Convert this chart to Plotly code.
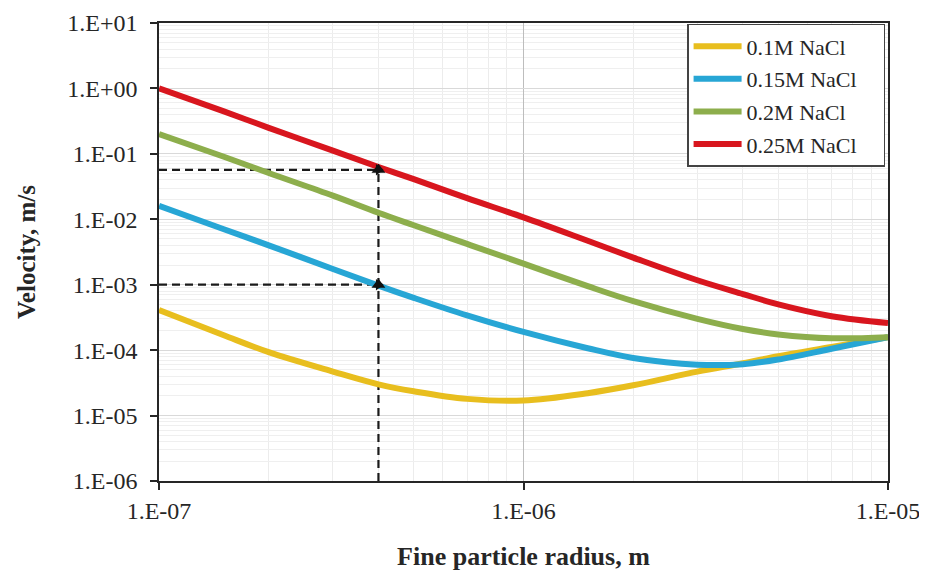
import plotly.graph_objects as go

# ---- data ----
radius = [1e-7, 1.5e-7, 2e-7, 3e-7, 4e-7, 5e-7, 7e-7, 1e-6, 1.5e-6, 2e-6, 3e-6, 4e-6, 5e-6, 7e-6, 1e-5]

v_01M = [4.1e-4, 1.7e-4, 9.3e-5, 4.7e-5, 3.0e-5, 2.35e-5, 1.8e-5, 1.7e-5, 2.2e-5, 2.9e-5, 4.7e-5, 6.3e-5, 8.1e-5, 1.12e-4, 1.58e-4]
v_015M = [0.016, 7.1e-3, 4.0e-3, 1.74e-3, 9.7e-4, 6.3e-4, 3.4e-4, 1.9e-4, 1.07e-4, 7.6e-5, 6.0e-5, 6.1e-5, 7.2e-5, 1.05e-4, 1.58e-4]
v_02M = [0.20, 0.091, 0.051, 0.023, 0.0126, 8.1e-3, 4.2e-3, 2.1e-3, 9.5e-4, 5.6e-4, 3.0e-4, 2.1e-4, 1.74e-4, 1.52e-4, 1.58e-4]
v_025M = [1.0, 0.45, 0.25, 0.112, 0.063, 0.041, 0.021, 0.0107, 4.7e-3, 2.6e-3, 1.17e-3, 7.2e-4, 5.0e-4, 3.3e-4, 2.6e-4]

series_names = ["0.1M NaCl", "0.15M NaCl", "0.2M NaCl", "0.25M NaCl"]
series_values = [v_01M, v_015M, v_02M, v_025M]
series_colors = ["#E8BE1E", "#27A6D5", "#8DAE4C", "#D8161E"]

# guide (dashed) lines read at radius 4E-07
guide_x = 4e-7
guide_y_high = 0.057
guide_y_low = 1.0e-3
x_min, y_min = 1e-7, 1e-6

x_tickvals = [1e-7, 1e-6, 1e-5]
x_ticktext = ["1.E-07", "1.E-06", "1.E-05"]
y_tickvals = [1e-6, 1e-5, 1e-4, 1e-3, 1e-2, 1e-1, 1e0, 1e1]
y_ticktext = ["1.E-06", "1.E-05", "1.E-04", "1.E-03", "1.E-02", "1.E-01", "1.E+00", "1.E+01"]

FONT = "Liberation Serif, Times New Roman, serif"
INK = "#262626"
LEGEND_PAD = "\u00a0" * 4  # extra right padding inside the legend box

fig = go.Figure()

# dashed guide lines
dash_style = dict(color="#1a1a1a", width=2.2, dash="8px,5px")
fig.add_trace(go.Scatter(x=[x_min, guide_x], y=[guide_y_high, guide_y_high], mode="lines",
                         line=dash_style, showlegend=False, hoverinfo="skip"))
fig.add_trace(go.Scatter(x=[x_min, guide_x], y=[guide_y_low, guide_y_low], mode="lines",
                         line=dash_style, showlegend=False, hoverinfo="skip"))
fig.add_trace(go.Scatter(x=[guide_x, guide_x], y=[y_min, guide_y_high], mode="lines",
                         line=dash_style, showlegend=False, hoverinfo="skip"))

for name, vals, col in zip(series_names, series_values, series_colors):
    fig.add_trace(go.Scatter(
        x=radius, y=vals, name=name + LEGEND_PAD, mode="lines",
        line=dict(color=col, width=6, shape="spline", smoothing=1.0),
        legendgroup=name,
    ))

# arrow heads
fig.add_trace(go.Scatter(x=[guide_x, guide_x], y=[guide_y_high, guide_y_low], mode="markers",
                         marker=dict(symbol="triangle-up", size=12, color="#111111",
                                     line=dict(width=0)),
                         showlegend=False, hoverinfo="skip"))
fig.add_trace(go.Scatter(x=[guide_x, guide_x], y=[guide_y_high, guide_y_low], mode="markers",
                         marker=dict(symbol="triangle-right", size=10, color="#111111",
                                     line=dict(width=0)),
                         showlegend=False, hoverinfo="skip"))

axis_common = dict(
    type="log", showline=True, linecolor=INK, linewidth=1.5, mirror=True,
    ticks="outside", ticklen=7, tickcolor=INK, tickwidth=1.5,
    tickfont=dict(family=FONT, size=24, color=INK),
    zeroline=False, automargin=False,
)

fig.update_xaxes(
    **axis_common,
    range=[-7, -5],
    tickmode="array", tickvals=x_tickvals, ticktext=x_ticktext,
    showgrid=True, gridcolor="#bdbdbd", gridwidth=1,
    minor=dict(dtick="D1", showgrid=True, gridcolor="#ececec", gridwidth=1, ticks=""),
    title=dict(text="<b>Fine particle radius, m</b>", font=dict(family=FONT, size=26, color=INK),
               standoff=24),
)
fig.update_yaxes(
    **axis_common,
    range=[-6, 1],
    tickmode="array", tickvals=y_tickvals, ticktext=y_ticktext,
    ticklabelstandoff=8,
    showgrid=True, gridcolor="#d9d9d9", gridwidth=1,
    minor=dict(dtick="D1", showgrid=True, gridcolor="#efefef", gridwidth=1, ticks=""),
    title=dict(text="<b>Velocity, m/s</b>", font=dict(family=FONT, size=25, color=INK),
               standoff=24),
)

# page body adds an 8px margin, so the figure is offset by 8px in the window
fig.update_layout(
    width=919, height=568,
    margin=dict(l=151, r=39, t=15, b=95),
    paper_bgcolor="white", plot_bgcolor="white",
    font=dict(family=FONT, color=INK),
    legend=dict(
        x=0.996, y=0.998, xanchor="right", yanchor="top",
        bgcolor="white", bordercolor="#444444", borderwidth=1.5,
        font=dict(family=FONT, size=22, color=INK),
        tracegroupgap=1, traceorder="grouped",
        itemwidth=48,
    ),
)

fig.write_html("out.html")
